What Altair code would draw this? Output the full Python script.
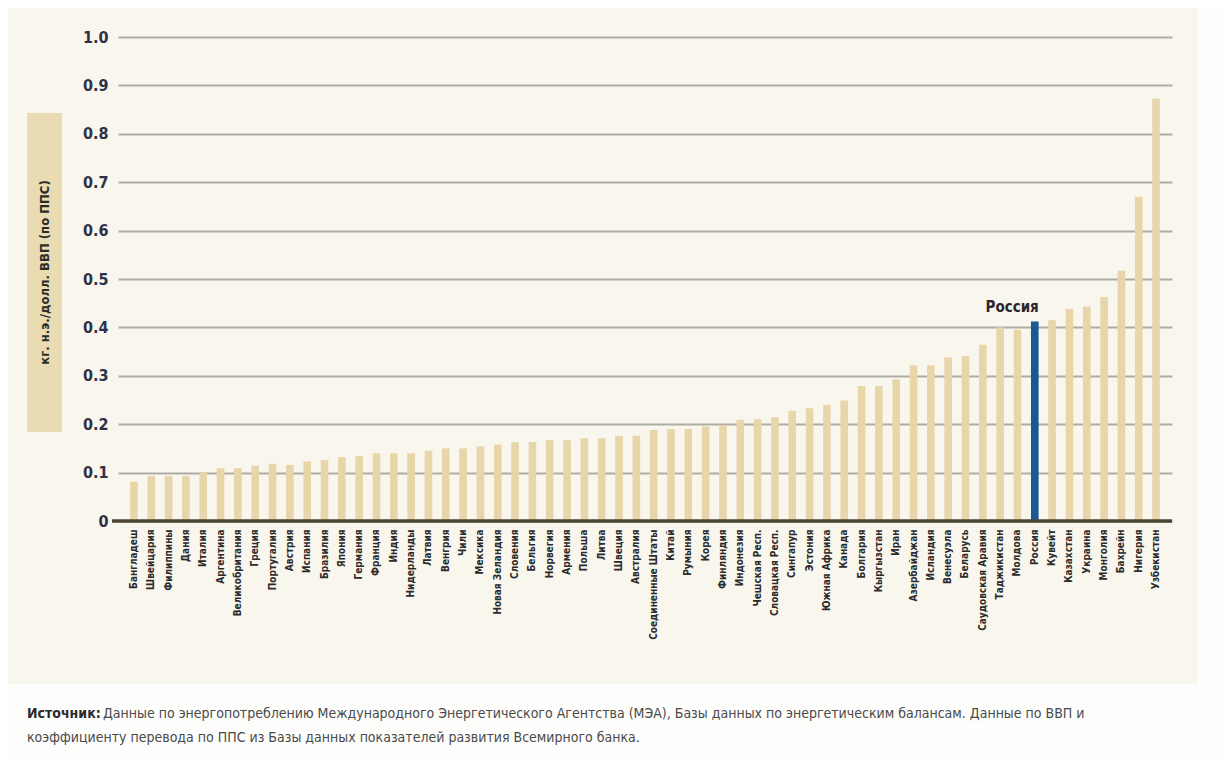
import altair as alt
import pandas as pd

countries = [
    "Бангладеш", "Швейцария", "Филиппины", "Дания", "Италия", "Аргентина",
    "Великобритания", "Греция", "Португалия", "Австрия", "Испания", "Бразилия",
    "Япония", "Германия", "Франция", "Индия", "Нидерланды", "Латвия", "Венгрия",
    "Чили", "Мексика", "Новая Зеландия", "Словения", "Бельгия", "Норвегия",
    "Армения", "Польша", "Литва", "Швеция", "Австралия", "Соединенные Штаты",
    "Китай", "Румыния", "Корея", "Финляндия", "Индонезия", "Чешская Респ.",
    "Словацкая Респ.", "Сингапур", "Эстония", "Южная Африка", "Канада",
    "Болгария", "Кыргызстан", "Иран", "Азербайджан", "Исландия", "Венесуэла",
    "Беларусь", "Саудовская Аравия", "Таджикистан", "Молдова", "Россия",
    "Кувейт", "Казахстан", "Украина", "Монголия", "Бахрейн", "Нигерия",
    "Узбекистан",
]
values = [
    0.081, 0.093, 0.093, 0.093, 0.100, 0.109,
    0.109, 0.114, 0.118, 0.116, 0.123, 0.126,
    0.132, 0.134, 0.140, 0.140, 0.140, 0.145, 0.150,
    0.150, 0.154, 0.158, 0.163, 0.163, 0.167,
    0.167, 0.171, 0.171, 0.176, 0.176, 0.188,
    0.190, 0.190, 0.195, 0.198, 0.209, 0.210,
    0.214, 0.228, 0.233, 0.240, 0.249,
    0.279, 0.279, 0.293, 0.322, 0.322, 0.338,
    0.341, 0.364, 0.400, 0.395, 0.412,
    0.415, 0.438, 0.443, 0.463, 0.517, 0.670,
    0.873,
]
y_ticks = [0, 0.1, 0.2, 0.3, 0.4, 0.5, 0.6, 0.7, 0.8, 0.9, 1.0]
highlight = "Россия"
y_title = "кг. н.э./долл. ВВП (по ППС)"
source_bold = "Источник:"
source_line1 = ("Данные по энергопотреблению Международного Энергетического Агентства (МЭА), "
                "Базы данных по энергетическим балансам.  Данные по ВВП и")
source_line2 = "коэффициенту перевода по ППС из Базы данных показателей развития Всемирного банка."

FONT = "Liberation Sans Narrow, DejaVu Sans Condensed, Arial Narrow, sans-serif"
BG = "#f9f6ed"
TAN = "#e6d6a9"
BLUE = "#1b5795"

df = pd.DataFrame({"country": countries, "value": values})
one = pd.DataFrame({"a": [0]})

W, H = 1054, 484

white_bottom = alt.Chart(one).mark_rect(color="#fdfdfb").encode(
    x=alt.value(-110), x2=alt.value(W + 52), y=alt.value(647), y2=alt.value(H + 245)
)
white_right = alt.Chart(one).mark_rect(color="#fdfdfb").encode(
    x=alt.value(1080), x2=alt.value(W + 52), y=alt.value(-29), y2=alt.value(647)
)

ybox = alt.Chart(one).mark_rect(color="#e9dbb2").encode(
    x=alt.value(-91), x2=alt.value(-56), y=alt.value(76), y2=alt.value(395)
)
ytext = alt.Chart(pd.DataFrame({"t": [y_title]})).mark_text(
    angle=270, font=FONT, fontSize=13, fontWeight="bold", color="#2b2b2b",
    align="center", baseline="middle"
).encode(x=alt.value(-73.5), y=alt.value(235.5), text="t:N")

bars = alt.Chart(df).mark_bar().encode(
    x=alt.X("country:N", sort=countries,
            scale=alt.Scale(paddingInner=0.56, paddingOuter=0.7),
            axis=alt.Axis(title=None, labelAngle=-90, labelFont=FONT, labelFontSize=10,
                          labelFontWeight="bold", labelColor="#2b2b2b", labelPadding=8,
                          ticks=False, domain=False, grid=False, labelOverlap=False)),
    y=alt.Y("value:Q", scale=alt.Scale(domain=[0, 1.0], nice=False),
            axis=alt.Axis(title=None, values=y_ticks,
                          labelExpr="datum.value == 0 ? '0' : format(datum.value, '.1f')",
                          labelFont=FONT, labelFontSize=16, labelFontWeight="bold",
                          labelColor="#2e3048", labelPadding=10, ticks=False, domain=False,
                          grid=True, gridColor="#aeaca3", gridWidth=2)),
    color=alt.condition(alt.datum.country == highlight, alt.value(BLUE), alt.value(TAN)),
)

zero = alt.Chart(one).mark_rule(color="#4c4534", strokeWidth=3.5).encode(
    y=alt.datum(0), x=alt.value(-6), x2=alt.value(W)
)

rus = alt.Chart(df[df["country"] == highlight]).mark_text(
    font=FONT, fontSize=15, fontWeight="bold", color="#2a2530",
    align="right", baseline="bottom", dx=4, dy=-7
).encode(x=alt.X("country:N", sort=countries), y="value:Q", text="country:N")

src_b = alt.Chart(pd.DataFrame({"t": [source_bold]})).mark_text(
    font=FONT, fontSize=14, fontWeight="bold", color="#2b2b2b", align="left", baseline="middle"
).encode(x=alt.value(-91), y=alt.value(677), text="t:N")
src_1 = alt.Chart(pd.DataFrame({"t": [source_line1]})).mark_text(
    font=FONT, fontSize=14, color="#4a4a4a", align="left", baseline="middle"
).encode(x=alt.value(-15), y=alt.value(677), text="t:N")
src_2 = alt.Chart(pd.DataFrame({"t": [source_line2]})).mark_text(
    font=FONT, fontSize=14, color="#4a4a4a", align="left", baseline="middle"
).encode(x=alt.value(-91), y=alt.value(701), text="t:N")

chart = alt.layer(
    white_bottom, white_right, ybox, ytext, bars, zero, rus, src_b, src_1, src_2
).properties(
    width=W, height=H,
    padding={"left": 110, "top": 29, "right": 50, "bottom": 240},
    autosize=alt.AutoSizeParams(type="none"),
    background=BG,
).configure_view(strokeWidth=0)

chart.save("out.html", embed_options={"renderer": "svg", "actions": False})
